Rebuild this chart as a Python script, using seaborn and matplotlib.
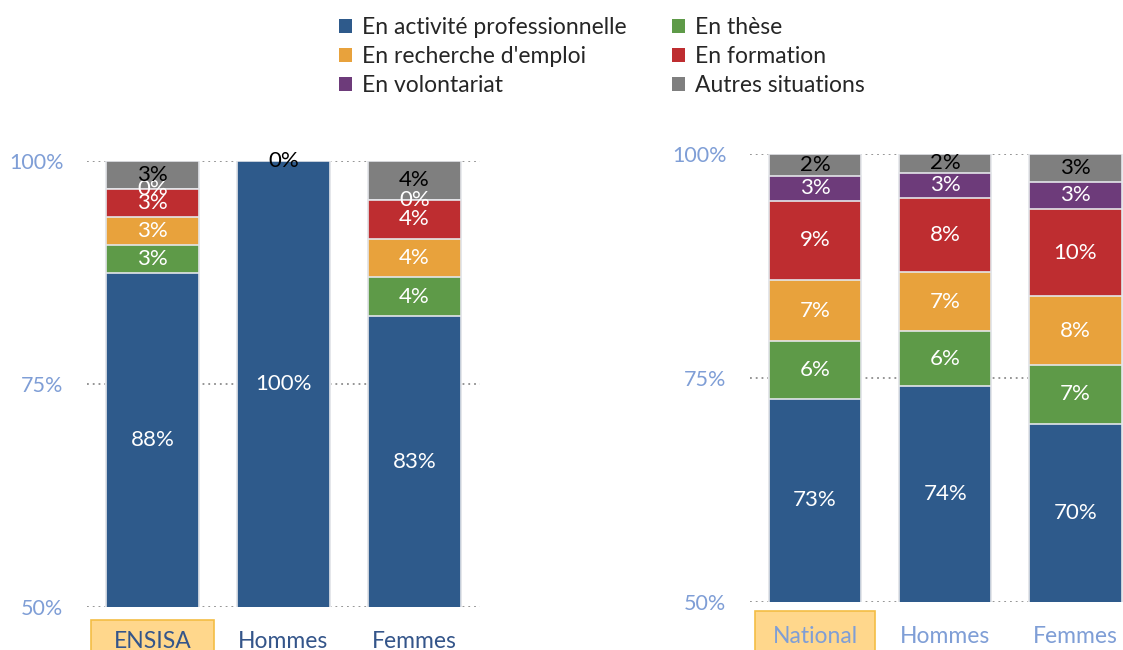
import numpy as np
import matplotlib
matplotlib.use("Agg")
import matplotlib.pyplot as plt
import matplotlib.transforms as mtransforms
from matplotlib.patches import Patch, Rectangle
import seaborn as sns

# categories
cats_left = ["ENSISA", "Hommes", "Femmes"]
cats_right = ["National", "Hommes", "Femmes"]
series = ["En activité professionnelle", "En thèse", "En recherche d'emploi",
          "En formation", "En volontariat", "Autres situations"]
colors = ["#2E5A8B", "#5E9A48", "#E8A23C", "#BE2D30", "#6D3B7A", "#7F7F7F"]

# ENSISA panel (%), NaN = no value
left_activite = [87.5, 100.0, 82.6]
left_these = [3.125, np.nan, 4.35]
left_recherche = [3.125, np.nan, 4.35]
left_formation = [3.125, np.nan, 4.35]
left_volontariat = [0.0, np.nan, 0.0]
left_autres = [3.125, 0.0, 4.35]

# National panel (%)
right_activite = [72.7, 74.1, 69.9]
right_these = [6.4, 6.1, 6.6]
right_recherche = [6.8, 6.6, 7.6]
right_formation = [8.9, 8.3, 9.8]
right_volontariat = [2.8, 2.8, 3.0]
right_autres = [2.4, 2.1, 3.1]

yticks = [50, 75, 100]
ytick_labels = ["50%", "75%", "100%"]

sns.set_theme(style="white")
plt.rcParams["font.family"] = ["Lato", "DejaVu Sans"]

W, H = 1123, 650
fig = plt.figure(figsize=(W / 100, H / 100), dpi=100)


def draw_panel(ax, cats, data, tick_color, box_top, box_half):
    vals = np.array(data, dtype=float)          # series x cats
    filled = np.nan_to_num(vals)
    cum = np.cumsum(filled, axis=0)
    # draw cumulative layers from the top down so each one covers the next
    for i in range(len(series) - 1, -1, -1):
        sns.barplot(x=cats, y=cum[i], color=colors[i], saturation=1,
                    width=0.71, edgecolor="#E4E6EA", linewidth=1.2, ax=ax)
    for i in range(len(series)):
        for j in range(len(cats)):
            v = vals[i, j]
            if np.isnan(v):
                continue
            lo = max(cum[i, j] - filled[i, j], 50)
            hi = cum[i, j]
            txt_col = "black" if i == len(series) - 1 else "white"
            ax.text(j, (lo + hi) / 2, f"{v:.0f}%", ha="center", va="center",
                    color=txt_col, fontsize=16, clip_on=False)
    ax.set_ylim(50, 100)
    ax.set_xlim(-0.5, 2.5)
    ax.set_yticks(yticks)
    ax.set_yticklabels(ytick_labels)
    ax.set_xlabel("")
    ax.set_ylabel("")
    for s in ax.spines.values():
        s.set_visible(False)
    ax.yaxis.grid(True, linestyle=(0, (1, 2.2)), color="#8C8C8C", linewidth=1.3)
    ax.xaxis.grid(False)
    ax.set_axisbelow(True)
    ax.tick_params(axis="y", length=0, pad=17, labelsize=15.5, labelcolor="#7F9ED6")
    ax.tick_params(axis="x", length=0, pad=17, labelsize=16.5, labelcolor=tick_color)
    # highlighted first category
    trans = mtransforms.blended_transform_factory(ax.transData, ax.transAxes)
    h = 40 / (ax.get_position().height * H)
    ax.add_patch(Rectangle((-box_half, box_top - h), 2 * box_half, h,
                           transform=trans, clip_on=False, zorder=0,
                           facecolor="#FFD78C", edgecolor="#F3BD45", linewidth=1.2))


ax1 = fig.add_axes([87 / W, 43 / H, 393 / W, 446 / H])
draw_panel(ax1, cats_left,
           [left_activite, left_these, left_recherche, left_formation,
            left_volontariat, left_autres],
           "#34558A", -13 / 446, 0.467)

ax2 = fig.add_axes([750 / W, 48 / H, 390.5 / W, 448 / H])
draw_panel(ax2, cats_right,
           [right_activite, right_these, right_recherche, right_formation,
            right_volontariat, right_autres],
           "#7F9ED6", -9 / 448, 0.46)

# legend, filled row by row
order = [0, 2, 4, 1, 3, 5]
handles = [Patch(facecolor=colors[i], edgecolor="none", label=series[i]) for i in order]
fig.legend(handles=handles, loc="upper left", bbox_to_anchor=(339 / W, 1 - 17 / H),
           ncol=2, frameon=False, fontsize=16.5, handlelength=0.55, handleheight=0.55,
           handletextpad=0.45, columnspacing=2.0, labelspacing=0.36,
           borderpad=0, borderaxespad=0)

fig.savefig("out.png", dpi=100)
